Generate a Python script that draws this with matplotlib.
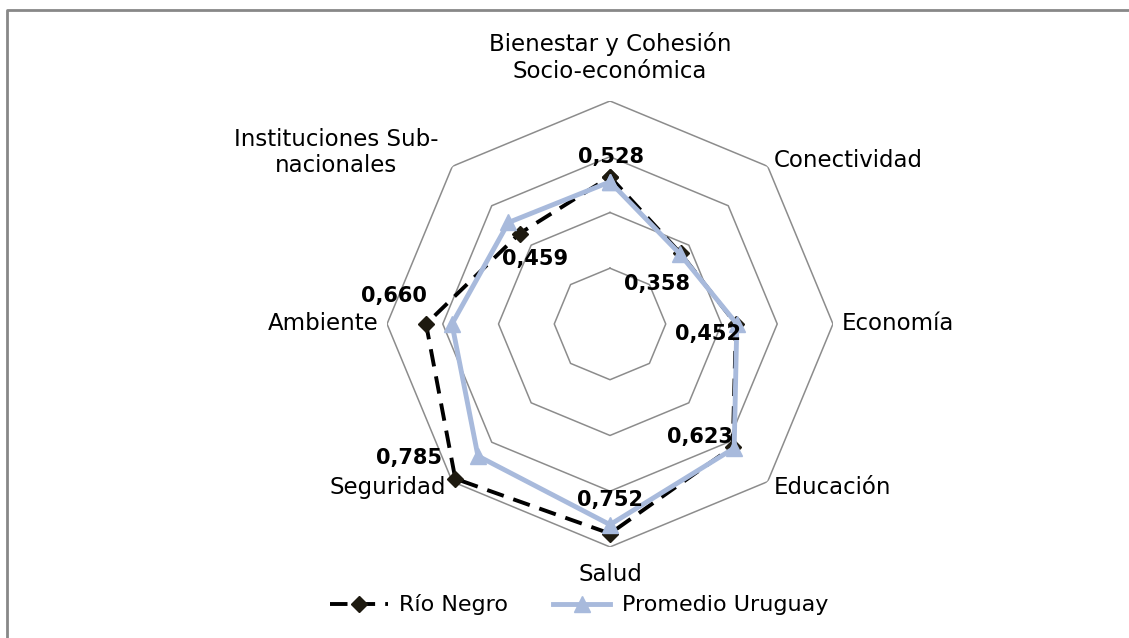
import numpy as np
import matplotlib
matplotlib.use("Agg")
import matplotlib.pyplot as plt
from matplotlib.lines import Line2D

# datos
categorias = ["Bienestar y Cohesión\nSocio-económica", "Conectividad", "Economía",
              "Educación", "Salud", "Seguridad", "Ambiente", "Instituciones Sub-\nnacionales"]
rio_negro = [0.528, 0.358, 0.452, 0.623, 0.752, 0.785, 0.660, 0.459]
promedio_uy = [0.51, 0.355, 0.455, 0.63, 0.72, 0.67, 0.567, 0.515]
etiquetas = ["0,528", "0,358", "0,452", "0,623", "0,752", "0,785", "0,660", "0,459"]
anillos = [0.2, 0.4, 0.6, 0.8]

plt.rcParams['font.family'] = ['DejaVu Sans']

fig = plt.figure(figsize=(11.29, 6.38), dpi=100)
# marco (solo borde izquierdo y superior visibles)
fig.lines.append(Line2D([7 / 1129, 7 / 1129, 1], [0, 1 - 10 / 638, 1 - 10 / 638],
                        transform=fig.transFigure, color='#888888', linewidth=2))

ax = fig.add_axes([0.3428, 0.1427, 0.395, 0.699], projection='polar')
ax.set_theta_offset(np.pi / 2)
ax.set_theta_direction(-1)
ax.set_ylim(0, 0.8)
ax.grid(False)
ax.spines['polar'].set_visible(False)
ax.set_xticks([])
ax.set_yticks([])
ax.patch.set_alpha(0)

n = len(categorias)
ang = np.arange(n) * 2 * np.pi / n
ang_c = np.append(ang, ang[0])

# rejilla octogonal
for r in anillos:
    ax.plot(ang_c, [r] * (n + 1), color='#8c8c8c', linewidth=1.1, zorder=1)

rn = np.append(rio_negro, rio_negro[0])
uy = np.append(promedio_uy, promedio_uy[0])
ax.plot(ang_c, rn, color='black', linewidth=2.8, linestyle=(0, (4.5, 2.6)),
        marker='D', markersize=8.5, markerfacecolor='#1e1a10', markeredgecolor='#1e1a10',
        label='Río Negro', zorder=3, clip_on=False)
ax.plot(ang_c, uy, color='#a8badc', linewidth=3.5, marker='^', markersize=11,
        markerfacecolor='#a8badc', markeredgecolor='#a8badc',
        label='Promedio Uruguay', zorder=4, clip_on=False)

# etiquetas de datos (desplazamiento en puntos)
desp = [(1, 14), (-17, -22), (-20, -7), (-24, 7), (0, 24), (-33, 15), (-23, 20), (11, -18)]
for a, v, t, d in zip(ang, rio_negro, etiquetas, desp):
    ax.annotate(t, (a, v), xytext=d, textcoords='offset points', ha='center', va='center',
                fontsize=15, fontweight='bold', zorder=6)

# etiquetas de categorias
pos_cat = [(0.955, 'center'), (0.83, 'left'), (0.83, 'left'), (0.83, 'left'),
           (0.9, 'center'), (0.83, 'right'), (0.83, 'right'), (0.87, 'right')]
for a, c, (r, ha) in zip(ang, categorias, pos_cat):
    ax.text(a, r, c, ha=ha, va='center', fontsize=16.5, multialignment='center',
            linespacing=1.2)

fig.legend(loc='center', bbox_to_anchor=(0.513, 0.052), ncol=2, frameon=False,
           fontsize=16, handlelength=2.6, columnspacing=2.0, handletextpad=0.5)

fig.savefig('out.png', dpi=100)
